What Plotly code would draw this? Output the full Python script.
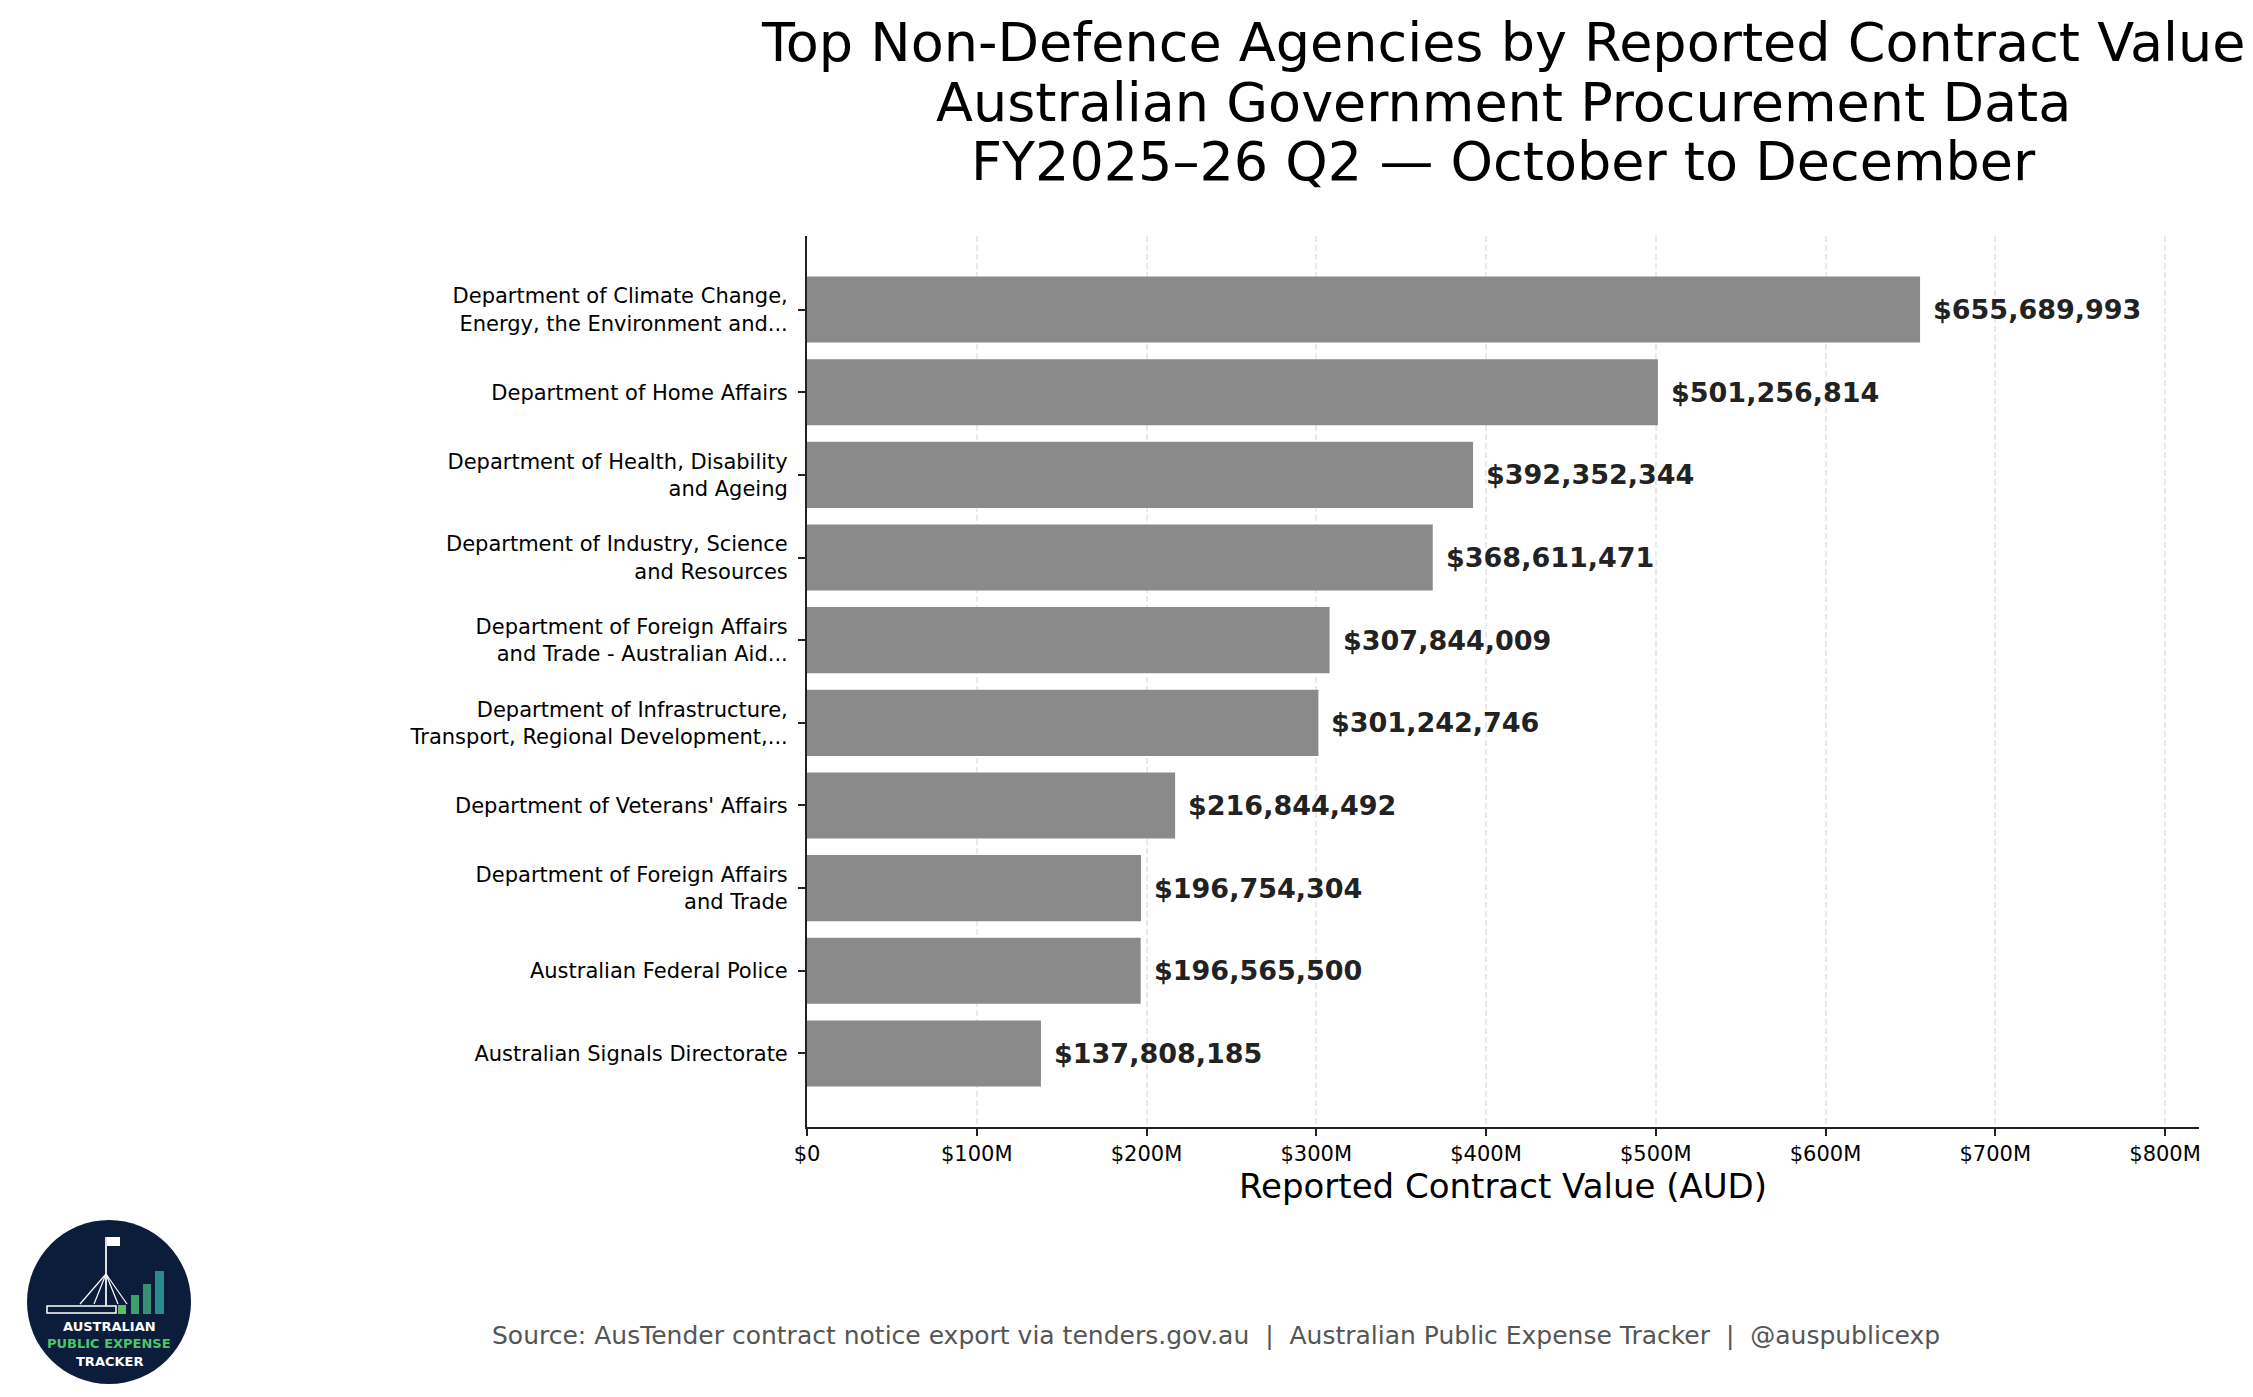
import plotly.graph_objects as go

# Agencies (top to bottom) and their reported contract value in AUD
agencies = [
    "Department of Climate Change,<br>Energy, the Environment and...",
    "Department of Home Affairs",
    "Department of Health, Disability<br>and Ageing",
    "Department of Industry, Science<br>and Resources",
    "Department of Foreign Affairs<br>and Trade - Australian Aid...",
    "Department of Infrastructure,<br>Transport, Regional Development,...",
    "Department of Veterans' Affairs",
    "Department of Foreign Affairs<br>and Trade",
    "Australian Federal Police",
    "Australian Signals Directorate",
]
contract_values = [655689993, 501256814, 392352344, 368611471, 307844009,
                   301242746, 216844492, 196754304, 196565500, 137808185]

x_tick_vals = [0, 100e6, 200e6, 300e6, 400e6, 500e6, 600e6, 700e6, 800e6]
x_tick_text = ["$0", "$100M", "$200M", "$300M", "$400M",
               "$500M", "$600M", "$700M", "$800M"]

title_lines = ["Top Non-Defence Agencies by Reported Contract Value",
               "Australian Government Procurement Data",
               "FY2025\u201326 Q2 \u2014 October to December"]

W, H = 2253, 1397
# plot area in pixels
L, R, T, B = 799, 2191, 228, 1119
FONT = "DejaVu Sans"


def px_x(px):
    return (px - L) / (R - L)


def px_y(py):
    return (B - py) / (B - T)


fig = go.Figure()

fig.add_trace(go.Bar(
    x=contract_values,
    y=agencies,
    orientation="h",
    marker=dict(color="#8a8a8a", line=dict(width=0)),
    showlegend=False,
))

# value labels next to each bar
annotations = []
for name, val in zip(agencies, contract_values):
    annotations.append(dict(
        x=val, y=name, xref="x", yref="y",
        text="<b>${:,.0f}</b>".format(val),
        showarrow=False, xanchor="left", yanchor="middle", xshift=11,
        font=dict(family=FONT, size=27, color="#222222"),
    ))

# title, one annotation per line so the line spacing can be matched
for line, py in zip(title_lines, [34, 94, 154]):
    annotations.append(dict(
        x=0.5, y=px_y(py), xref="paper", yref="paper",
        text=line, showarrow=False, xanchor="center", yanchor="middle",
        font=dict(family=FONT, size=54, color="#000000"),
    ))

# source line
annotations.append(dict(
    x=px_x(1208), y=px_y(1327), xref="paper", yref="paper",
    text="Source: AusTender contract notice export via tenders.gov.au&nbsp; |&nbsp; "
         "Australian Public Expense Tracker&nbsp; |&nbsp; @auspublicexp",
    showarrow=False, xanchor="center", yanchor="middle",
    font=dict(family=FONT, size=25, color="#555555"),
))

# logo text
for label, col, py in [("AUSTRALIAN", "#ffffff", 1318),
                       ("PUBLIC EXPENSE", "#4cc46a", 1335),
                       ("TRACKER", "#ffffff", 1353)]:
    annotations.append(dict(
        x=px_x(101), y=px_y(py), xref="paper", yref="paper",
        text="<b>" + label + "</b>", showarrow=False,
        xanchor="center", yanchor="middle",
        font=dict(family=FONT, size=13, color=col),
    ))

shapes = []
# logo badge
shapes.append(dict(type="circle", xref="paper", yref="paper",
                   x0=px_x(19), x1=px_x(183), y0=px_y(1376), y1=px_y(1212),
                   fillcolor="#0c1d3b", line=dict(width=0), layer="above"))
# small bar chart inside badge
for (bx0, bx1, btop, bcol) in [(110, 118, 1297, "#5cbf63"), (123, 131, 1287, "#3f9f6c"),
                               (135, 143, 1276, "#3a8f78"), (147, 156, 1263, "#2b8a8c")]:
    shapes.append(dict(type="rect", xref="paper", yref="paper",
                       x0=px_x(bx0), x1=px_x(bx1), y0=px_y(1306), y1=px_y(btop),
                       fillcolor=bcol, line=dict(width=0), layer="above"))
# parliament house outline
shapes.append(dict(type="rect", xref="paper", yref="paper",
                   x0=px_x(39), x1=px_x(108), y0=px_y(1305), y1=px_y(1298),
                   fillcolor="rgba(0,0,0,0)", line=dict(color="#ffffff", width=1.5),
                   layer="above"))
shapes.append(dict(type="line", xref="paper", yref="paper",
                   x0=px_x(98), x1=px_x(98), y0=px_y(1298), y1=px_y(1229),
                   line=dict(color="#dddddd", width=2), layer="above"))
shapes.append(dict(type="rect", xref="paper", yref="paper",
                   x0=px_x(99), x1=px_x(112), y0=px_y(1238), y1=px_y(1229),
                   fillcolor="#ffffff", line=dict(width=0), layer="above"))
for lx in [72, 86, 110, 119]:
    shapes.append(dict(type="line", xref="paper", yref="paper",
                       x0=px_x(98), x1=px_x(lx), y0=px_y(1266), y1=px_y(1296),
                       line=dict(color="#ffffff", width=1.2), layer="above"))

fig.update_layout(
    width=W, height=H,
    margin=dict(l=L, r=W - R, t=T, b=H - B, pad=0),
    paper_bgcolor="white",
    plot_bgcolor="white",
    bargap=0.2,
    font=dict(family=FONT, color="#000000"),
    annotations=annotations,
    shapes=shapes,
)

fig.update_xaxes(
    range=[0, 820e6],
    tickvals=x_tick_vals,
    ticktext=x_tick_text,
    tickfont=dict(size=21, color="#000000"),
    ticks="outside", ticklen=7, tickwidth=1.5, tickcolor="#222222",
    showline=True, linecolor="#222222", linewidth=2,
    showgrid=True, gridcolor="rgba(200,200,200,0.38)", gridwidth=1.5,
    griddash="6px,3px",
    layer="above traces",
    zeroline=False,
    title=dict(text="Reported Contract Value (AUD)",
               font=dict(size=34, color="#000000"), standoff=6),
)

fig.update_yaxes(
    range=[len(agencies) - 0.11, -0.89],
    tickfont=dict(size=21, color="#000000"),
    ticks="outside", ticklen=7, tickwidth=1.5, tickcolor="#222222",
    ticklabelstandoff=6,
    showline=True, linecolor="#222222", linewidth=2,
    showgrid=False, zeroline=False,
)

fig.write_html("out.html")
